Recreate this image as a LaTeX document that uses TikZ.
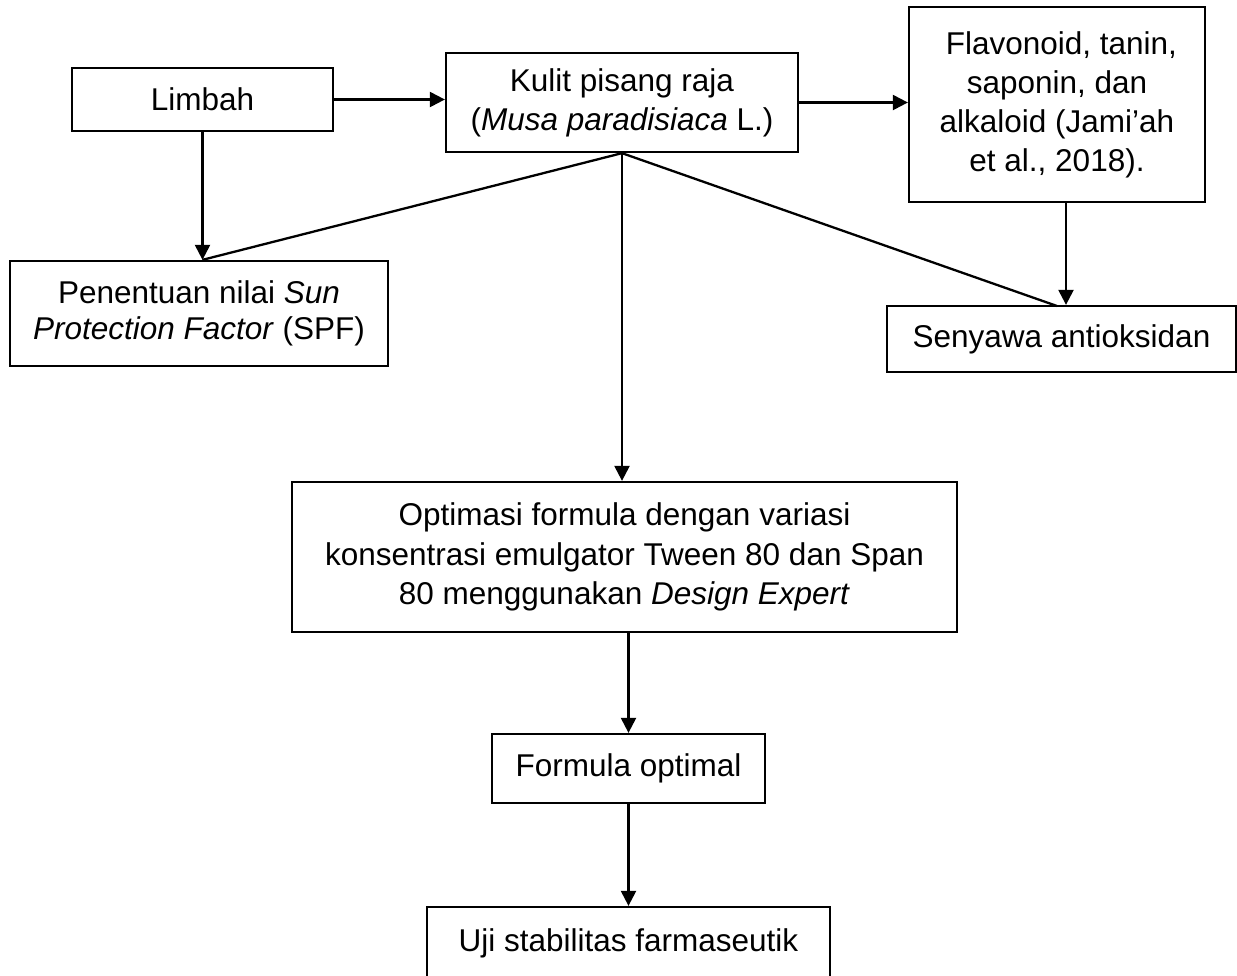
\documentclass[tikz,border=0pt]{standalone}
\usepackage{fontspec}
\setmainfont{Liberation Sans}
\usetikzlibrary{arrows.meta}
\begin{document}
\begin{tikzpicture}[x=1pt,y=-1pt,
  box/.style={draw=black,line width=2.3pt,rectangle,inner sep=0pt,align=center,
    font=\fontsize{31.5}{39}\selectfont},
  conn/.style={line width=2.3pt,draw=black},
  arr/.style={conn,-{Triangle[length=15pt,width=15pt]}}]
\useasboundingbox (0,0) rectangle (1237,975);
\node[box,minimum width=261pt,minimum height=63pt] (limbah) at (202.5,99.5) {Limbah};
\node[box,minimum width=352pt,minimum height=99pt] (kulit) at (622,102.5) {Kulit pisang raja\\(\textit{Musa paradisiaca} L.)};
\node[box,minimum width=296pt,minimum height=195pt] (flav) at (1057,104.5) {\ Flavonoid, tanin,\\saponin, dan\\alkaloid (Jami’ah\\et al., 2018).};
\node[box,minimum width=378pt,minimum height=105pt,font=\fontsize{31.5}{36}\selectfont] (pen) at (199,313.5) {Penentuan nilai \textit{Sun}\\\textit{Protection Factor} (SPF)};
\node[box,minimum width=349pt,minimum height=66pt] (sen) at (1061.5,339) {Senyawa antioksidan};
\node[box,minimum width=665pt,minimum height=150pt,font=\fontsize{31.5}{39.5}\selectfont] (opt) at (624.5,557) {Optimasi formula dengan variasi\\konsentrasi emulgator Tween 80 dan Span\\80 menggunakan \textit{Design Expert}};
\node[box,minimum width=273pt,minimum height=69pt] (form) at (628.5,768.5) {Formula optimal};
\node[box,minimum width=403pt,minimum height=73pt] (uji) at (628.5,943.5) {Uji stabilitas farmaseutik};
\coordinate (penTop) at (limbah.south |- pen.north);
\coordinate (senTopL) at (1057,306);
\coordinate (flavOut) at (1066,202);
\draw[arr] (limbah.east) -- (limbah.east -| kulit.west);
\draw[arr] (kulit.east) -- (kulit.east -| flav.west);
\draw[arr] (limbah.south) -- (penTop);
\draw[conn] (kulit.south) -- (penTop);
\draw[conn] (kulit.south) -- (senTopL);
\draw[arr] (flavOut) -- (flavOut |- sen.north);
\draw[arr] (kulit.south) -- (kulit.south |- opt.north);
\draw[arr] (opt.south -| form.north) -- (form.north);
\draw[arr] (form.south) -- (uji.north);
\end{tikzpicture}
\end{document}
